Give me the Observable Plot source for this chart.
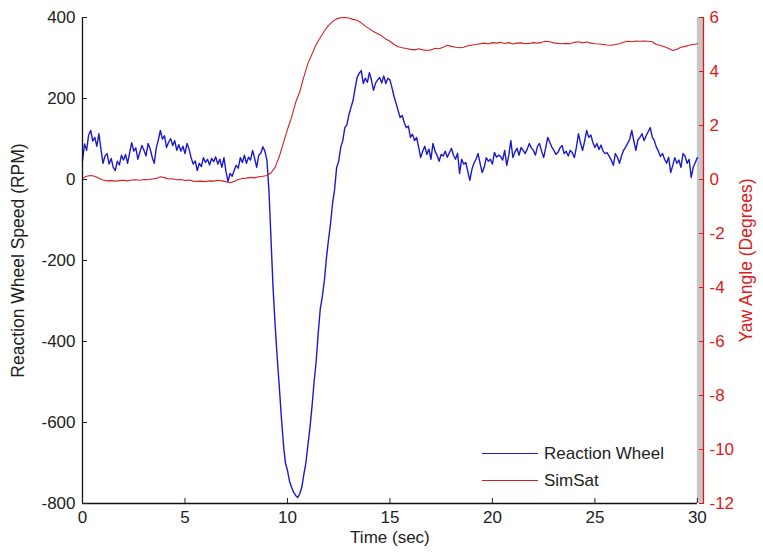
<!DOCTYPE html>
<html>
<head>
<meta charset="utf-8">
<script src="https://cdn.jsdelivr.net/npm/d3@7"></script>
<script src="https://cdn.jsdelivr.net/npm/@observablehq/plot@0.6"></script>
<style>
  html, body { margin: 0; padding: 0; background: #fff; }
  #wrap { position: relative; width: 763px; height: 556px; font-family: "Liberation Sans", Arial, sans-serif; }
  #legend { position: absolute; left: 482px; top: 440px; font-size: 17px; color: #222; }
  #legend .row { display: flex; align-items: center; height: 27px; }
  #legend .sw { width: 56px; height: 0; margin-right: 6px; }
</style>
</head>
<body>
<div id="wrap"></div>
<script>
// ---- Data ----
const wheelDt = 0.1; // seconds between Reaction Wheel samples
const wheelRPM = [
  47, 88, 72, 110, 121, 95, 104, 82, 113, 75,
  40, 58, 64, 38, 52, 30, 22, 45, 36, 60,
  48, 62, 40, 66, 91, 70, 78, 50, 68, 84,
  72, 58, 89, 76, 55, 40, 78, 98, 121, 100,
  108, 79, 92, 101, 84, 96, 72, 86, 70, 82,
  64, 89, 75, 54, 38, 46, 22, 40, 32, 54,
  42, 50, 36, 52, 44, 56, 38, 50, 30, 54,
  20, -5, 15, 8, 22, 35, 28, 54, 42, 60,
  40, 55, 48, 72, 52, 30, 60, 65, 81, 70,
  47, -30, -150, -270, -360, -440, -510, -585, -652, -700,
  -718, -745, -760, -772, -780, -785, -776, -760, -728, -700,
  -655, -612, -560, -500, -450, -380, -320, -290, -250, -195,
  -150, -110, -60, -25, 30, 45, 80, 96, 128, 135,
  160, 178, 195, 225, 252, 262, 269, 237, 250, 240,
  264, 245, 220, 238, 246, 252, 238, 256, 237, 250,
  246, 227, 205, 188, 170, 153, 158, 140, 128, 132,
  104, 112, 96, 104, 80, 54, 70, 82, 62, 75,
  50, 89, 70, 60, 45, 62, 58, 70, 55, 66,
  77, 60, 50, 65, 15, 50, 38, 42, 20, -2,
  25, 40, 50, 64, 40, 17, 30, 54, 45, 50,
  38, 67, 55, 60, 57, 48, 72, 35, 60, 96,
  54, 68, 77, 60, 79, 72, 64, 75, 89, 78,
  72, 60, 82, 89, 70, 54, 78, 104, 92, 80,
  72, 62, 67, 78, 84, 64, 70, 58, 72, 66,
  54, 80, 113, 90, 72, 95, 121, 104, 110, 92,
  79, 89, 74, 85, 70, 64, 66, 57, 48, 35,
  64, 55, 40, 58, 72, 80, 89, 100, 121, 95,
  72, 98, 104, 113, 96, 108, 118, 128, 105, 96,
  80, 70, 57, 64, 50, 40, 55, 17, 35, 54,
  40, 48, 30, 64, 58, 40, 50, 5, 30, 42,
  54
];

const simSatDt = 0.2; // seconds between SimSat samples
const simSatYawDeg = [
  0.05, 0.12, 0.15, 0.12, 0.05, -0.02, -0.05, -0.04, -0.06, -0.04,
  -0.03, -0.05, -0.02, -0.01, -0.03, 0.0, -0.01, 0.02, 0.04, 0.1,
  0.07, 0.02, 0.03, -0.01, 0.0, -0.04, -0.02, -0.06, -0.07, -0.06,
  -0.08, -0.05, -0.06, -0.03, -0.05, -0.08, -0.12, -0.07, 0.0, 0.04,
  0.05, 0.08, 0.06, 0.1, 0.12, 0.15, 0.25, 0.45, 0.85, 1.35,
  1.85, 2.3, 2.85, 3.25, 3.8, 4.3, 4.65, 5.0, 5.25, 5.5,
  5.7, 5.85, 5.95, 5.99, 6.0, 5.98, 5.93, 5.9, 5.8, 5.68,
  5.58, 5.48, 5.4, 5.32, 5.2, 5.12, 5.0, 4.92, 4.88, 4.85,
  4.82, 4.8, 4.84, 4.8, 4.78, 4.8, 4.86, 4.84, 4.9, 4.97,
  4.93, 4.9, 4.88, 4.9, 4.95, 4.98, 5.0, 5.03, 5.05, 5.02,
  5.07, 5.05, 5.08, 5.04, 5.07, 5.02, 5.05, 5.06, 5.03, 5.04,
  5.07, 5.05, 5.08, 5.12, 5.1, 5.06, 5.04, 5.03, 5.04, 5.03,
  5.08, 5.1, 5.06, 5.09, 5.05, 5.03, 5.02, 5.0, 4.98, 4.97,
  5.0, 5.03, 5.08, 5.12, 5.1, 5.13, 5.12, 5.13, 5.12, 5.1,
  5.0, 4.96, 4.92, 4.85, 4.78, 4.82, 4.9, 4.93, 4.97, 5.0,
  5.03
];

const timeTicks = [0, 5, 10, 15, 20, 25, 30];
const rpmTicks = [-800, -600, -400, -200, 0, 200, 400];
const degTicks = [-12, -10, -8, -6, -4, -2, 0, 2, 4, 6];
const rpmDomain = [-800, 400];
const degDomain = [-12, 6];
const seriesNames = ["Reaction Wheel", "SimSat"];
const xLabel = "Time (sec)";
const yLeftLabel = "Reaction Wheel Speed (RPM)";
const yRightLabel = "Yaw Angle (Degrees)";

// ---- Build ----
const BLUE = "#1a1acc";
const RED = "#d42020";
const AXISRED = "#e01818";
const xEnd = 30.3; // axis box extends slightly past 30 (grey strip)

// map degrees onto the RPM scale (both have 0 aligned)
const degToRpm = d => rpmDomain[0] + (d - degDomain[0]) * (rpmDomain[1] - rpmDomain[0]) / (degDomain[1] - degDomain[0]);

const wheel = wheelRPM.map((v, i) => ({t: +(i * wheelDt).toFixed(2), v}));
const sim = simSatYawDeg.map((d, i) => ({t: +(i * simSatDt).toFixed(2), v: degToRpm(d)}));

const chart = Plot.plot({
  width: 763,
  height: 556,
  marginLeft: 82,
  marginRight: 60,
  marginTop: 17,
  marginBottom: 53,
  style: {fontFamily: "'Liberation Sans', Arial, sans-serif", fontSize: "17px", background: "#fff", overflow: "visible"},
  x: {domain: [0, xEnd]},
  y: {domain: rpmDomain},
  marks: [
    Plot.rect([0], {x1: 30, x2: xEnd, y1: rpmDomain[0], y2: rpmDomain[1], fill: "#c6c6c6"}),
    Plot.lineY(wheel, {x: "t", y: "v", stroke: BLUE, strokeWidth: 1.4}),
    Plot.lineY(sim, {x: "t", y: "v", stroke: RED, strokeWidth: 1.1}),
    Plot.ruleX([0], {stroke: "#111", strokeWidth: 1.3}),
    Plot.ruleY([rpmDomain[0]], {x1: 0, x2: 30, stroke: "#111", strokeWidth: 1.3}),
    Plot.ruleX([xEnd], {stroke: AXISRED, strokeWidth: 1.3}),
    Plot.axisX({ticks: timeTicks, tickSize: -5, tickPadding: 12, label: null, color: "#222", tickFormat: d => String(d)}),
    Plot.axisY({ticks: rpmTicks, anchor: "left", tickSize: -5, tickPadding: 12, label: null, color: "#222", tickFormat: d => String(d)}),
    Plot.axisY(degTicks.map(degToRpm), {anchor: "right", tickSize: -5, tickPadding: 11, label: null, color: AXISRED,
      tickFormat: (d, i) => String(degTicks[i])}),
    Plot.text([xLabel], {x: 15, frameAnchor: "bottom", dy: 39, text: d => d, fill: "#222", fontSize: 17}),
    Plot.text([yLeftLabel], {frameAnchor: "left", textAnchor: "middle", dx: -64, rotate: -90, text: d => d, fill: "#222", fontSize: 17.5}),
    Plot.text([yRightLabel], {frameAnchor: "right", textAnchor: "middle", dx: 43, rotate: -90, text: d => d, fill: AXISRED, fontSize: 17.5})
  ]
});

const wrap = document.getElementById("wrap");
wrap.appendChild(chart);

const legend = document.createElement("div");
legend.id = "legend";
const colors = [BLUE, RED];
seriesNames.forEach((name, i) => {
  const row = document.createElement("div");
  row.className = "row";
  const sw = document.createElement("span");
  sw.className = "sw";
  sw.style.borderTop = `${i === 0 ? 1.6 : 1.3}px solid ${colors[i]}`;
  const label = document.createElement("span");
  label.textContent = name;
  row.appendChild(sw);
  row.appendChild(label);
  legend.appendChild(row);
});
wrap.appendChild(legend);
</script>
</body>
</html>
